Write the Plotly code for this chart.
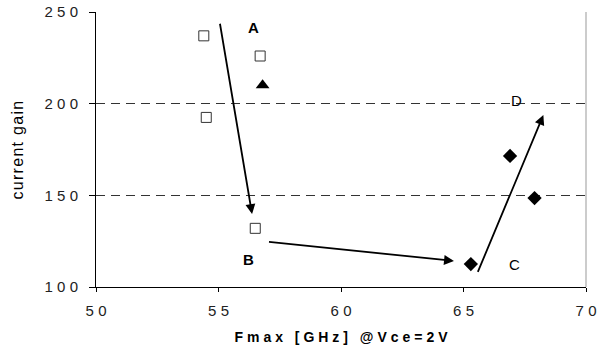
import plotly.graph_objects as go

# ---- data ----
sq_x = [54.4, 56.7, 54.5, 56.5]
sq_y = [237, 226, 192.5, 132]
tri_x = [56.8]
tri_y = [210]
dia_x = [65.3, 67.9, 66.9]
dia_y = [112.5, 148.5, 171.5]

arrow_tail_x = [55.05, 57.0, 65.56]
arrow_tail_y = [244.4, 124.7, 107.4]
arrow_head_x = [56.37, 64.61, 68.26]
arrow_head_y = [139.8, 114.2, 193.8]

labels = ["A", "B", "C", "D"]
label_x = [56.41, 56.24, 67.09, 67.17]
label_y = [241.3, 115.2, 112.4, 202]
label_bold = [True, True, False, False]

x_ticks = [50, 55, 60, 65, 70]
y_ticks = [100, 150, 200, 250]
x_title = "Fmax [GHz] @Vce=2V"
y_title = "current gain"

SEP = "\u2009\u200a"
def spaced(s, sep=SEP):
    return sep.join("\u00a0" if c == " " else c for c in s)

FONT = "Arial, Liberation Sans, sans-serif"

fig = go.Figure()
fig.add_trace(go.Scatter(x=sq_x, y=sq_y, mode="markers",
                         marker=dict(symbol="square", size=10, color="white",
                                     line=dict(color="#333", width=1)),
                         showlegend=False))
fig.add_trace(go.Scatter(x=tri_x, y=tri_y, mode="markers",
                         marker=dict(symbol="triangle-up", size=12, color="black"),
                         showlegend=False))
fig.add_trace(go.Scatter(x=dia_x, y=dia_y, mode="markers",
                         marker=dict(symbol="diamond", size=11, color="black"),
                         showlegend=False))

for tx, ty, hx, hy in zip(arrow_tail_x, arrow_tail_y, arrow_head_x, arrow_head_y):
    fig.add_annotation(x=hx, y=hy, ax=tx, ay=ty, xref="x", yref="y",
                       axref="x", ayref="y", text="", showarrow=True,
                       arrowhead=2, arrowsize=1.1, arrowwidth=1.8,
                       arrowcolor="black", standoff=0, startstandoff=0)

for t, lx, ly, b in zip(labels, label_x, label_y, label_bold):
    fig.add_annotation(x=lx, y=ly, xref="x", yref="y", text=t, showarrow=False,
                       font=dict(family=FONT, size=15, color="black",
                                 weight="bold" if b else "normal"))

fig.update_layout(
    width=606, height=352,
    margin=dict(l=96, r=20, t=12, b=65),
    paper_bgcolor="white", plot_bgcolor="white",
    font=dict(family=FONT, color="#222"),
    xaxis=dict(range=[50, 70], tickvals=x_ticks,
               ticktext=[spaced(str(v)) for v in x_ticks],
               showgrid=False, zeroline=False, showline=True, automargin=False,
               linecolor="black", linewidth=1, ticks="outside", ticklen=4,
               tickcolor="black", tickfont=dict(size=15, color="#222"),
               ticklabelstandoff=6,
               title=dict(text=spaced(x_title),
                          font=dict(size=14, color="black", weight="bold"),
                          standoff=14)),
    yaxis=dict(range=[100, 250], tickvals=y_ticks,
               ticktext=[spaced(str(v)) for v in y_ticks],
               showgrid=True, gridcolor="#333", griddash="9px,6px", gridwidth=1,
               zeroline=False, showline=True, automargin=False,
               linecolor="black", linewidth=1, ticks="outside", ticklen=6,
               tickcolor="black", tickfont=dict(size=15, color="#222"),
               ticklabelstandoff=8,
               title=dict(text='<span style="letter-spacing:1.3px">' + y_title + '</span>',
                          font=dict(size=16, color="black"),
                          standoff=16)),
)
fig.add_shape(type="line", xref="paper", yref="paper", x0=1, x1=1, y0=0, y1=1,
              line=dict(color="#999", width=1))

fig.write_html("out.html", config={"displayModeBar": False},
               post_script="document.body.style.margin='0';document.body.style.padding='0';")
